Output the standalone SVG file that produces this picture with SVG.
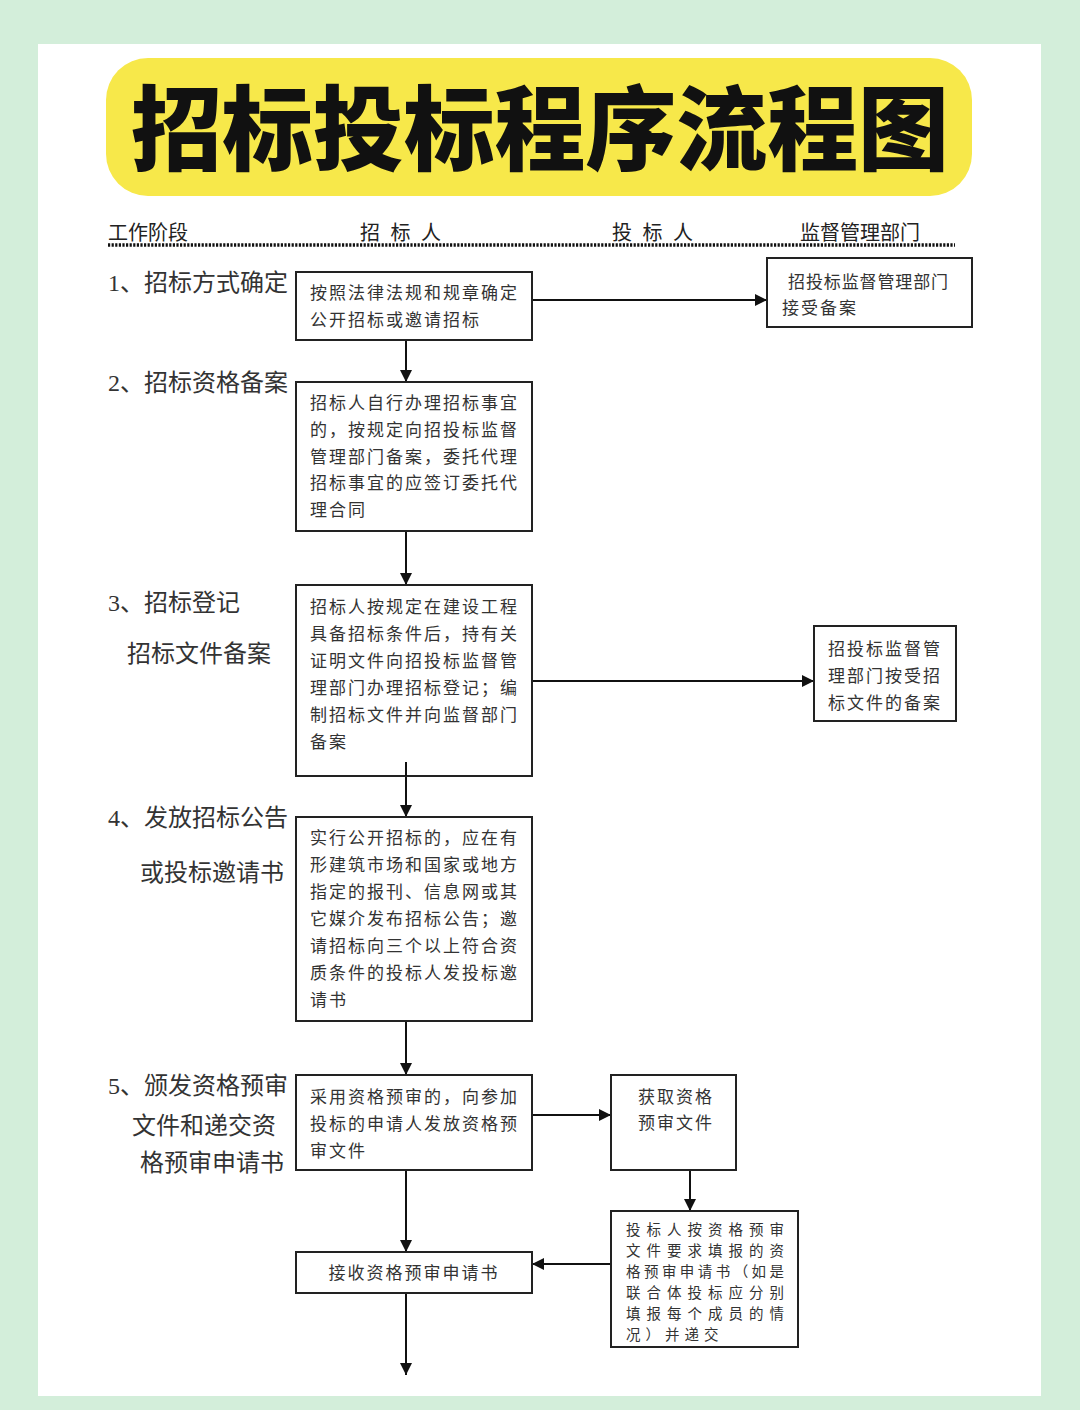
<svg xmlns="http://www.w3.org/2000/svg" width="1080" height="1410" viewBox="0 0 1080 1410">
<defs>
<style>
.box{fill:#fff;stroke:#222;stroke-width:2}
.bt{font-family:"Noto Sans CJK SC",sans-serif;font-size:17px;fill:#333;letter-spacing:2px}
.sm{font-family:"Noto Sans CJK SC",sans-serif;font-size:14.5px;fill:#333}
.lb{font-family:"Liberation Serif","Noto Sans CJK SC",serif;font-size:24px;fill:#333}
.hd{font-family:"Noto Sans CJK SC",sans-serif;font-size:20px;fill:#222}
.cn{stroke:#111;stroke-width:2;fill:none}
</style>
<marker id="ah" markerUnits="userSpaceOnUse" markerWidth="13" markerHeight="12" refX="12" refY="6" orient="auto">
<path d="M0,0 L12,6 L0,12 z" fill="#111"/>
</marker>
</defs>
<rect x="0" y="0" width="1080" height="1410" fill="#d3eeda"/>
<rect x="38" y="44" width="1003" height="1352" fill="#fff"/>
<g id="title">
<rect x="106" y="58" width="866" height="138" rx="42" fill="#f7e84a"/>
<text x="540" y="163" text-anchor="middle" font-family="Noto Sans CJK SC,sans-serif" font-size="92" font-weight="900" fill="#111" textLength="818" lengthAdjust="spacingAndGlyphs">招标投标程序流程图</text>
</g>
<g id="header">
<text class="hd" x="108" y="240">工作阶段</text>
<text class="hd" x="360" y="240" letter-spacing="3">招 标 人</text>
<text class="hd" x="612" y="240" letter-spacing="3">投 标 人</text>
<text class="hd" x="800" y="240">监督管理部门</text>
<line x1="108" y1="245" x2="955" y2="245" stroke="#111" stroke-width="3.5" stroke-dasharray="2.2 1.4"/>
</g>
<g id="stages">
<text class="lb" x="108" y="291">1、招标方式确定</text>
<text class="lb" x="108" y="391">2、招标资格备案</text>
<text class="lb" x="108" y="611">3、招标登记</text>
<text class="lb" x="127" y="662">招标文件备案</text>
<text class="lb" x="108" y="826">4、发放招标公告</text>
<text class="lb" x="140" y="881">或投标邀请书</text>
<text class="lb" x="108" y="1094">5、颁发资格预审</text>
<text class="lb" x="132" y="1134">文件和递交资</text>
<text class="lb" x="140" y="1171">格预审申请书</text>
</g>
<g id="connectors">
<line class="cn" x1="406" y1="340" x2="406" y2="382" marker-end="url(#ah)"/>
<line class="cn" x1="532" y1="300" x2="767" y2="300" marker-end="url(#ah)"/>
<line class="cn" x1="406" y1="531" x2="406" y2="585" marker-end="url(#ah)"/>
<line class="cn" x1="532" y1="681" x2="814" y2="681" marker-end="url(#ah)"/>
<line class="cn" x1="406" y1="762" x2="406" y2="817" marker-end="url(#ah)"/>
<line class="cn" x1="406" y1="1021" x2="406" y2="1075" marker-end="url(#ah)"/>
<line class="cn" x1="532" y1="1115" x2="611" y2="1115" marker-end="url(#ah)"/>
<line class="cn" x1="406" y1="1170" x2="406" y2="1252" marker-end="url(#ah)"/>
<line class="cn" x1="690" y1="1170" x2="690" y2="1211" marker-end="url(#ah)"/>
<line class="cn" x1="611" y1="1264" x2="532" y2="1264" marker-end="url(#ah)"/>
<line class="cn" x1="406" y1="1293" x2="406" y2="1375" marker-end="url(#ah)"/>
</g>
<g id="n1">
<rect class="box" x="296" y="272" width="236" height="68"/>
<text class="bt" x="310" y="299">按照法律法规和规章确定</text>
<text class="bt" x="310" y="326">公开招标或邀请招标</text>
</g>
<g id="n1r">
<rect class="box" x="767" y="258" width="205" height="69"/>
<text class="bt" x="788" y="288" letter-spacing="0" textLength="162" lengthAdjust="spacing">招投标监督管理部门</text>
<text class="bt" x="782" y="314" letter-spacing="0.3">接受备案</text>
</g>
<g id="n2">
<rect class="box" x="296" y="382" width="236" height="149"/>
<text class="bt" x="310" y="409">招标人自行办理招标事宜</text>
<text class="bt" x="310" y="436">的，按规定向招投标监督</text>
<text class="bt" x="310" y="463">管理部门备案，委托代理</text>
<text class="bt" x="310" y="489">招标事宜的应签订委托代</text>
<text class="bt" x="310" y="516">理合同</text>
</g>
<g id="n3">
<rect class="box" x="296" y="585" width="236" height="191"/>
<text class="bt" x="310" y="613">招标人按规定在建设工程</text>
<text class="bt" x="310" y="640">具备招标条件后，持有关</text>
<text class="bt" x="310" y="667">证明文件向招投标监督管</text>
<text class="bt" x="310" y="694">理部门办理招标登记；编</text>
<text class="bt" x="310" y="721">制招标文件并向监督部门</text>
<text class="bt" x="310" y="748">备案</text>
</g>
<line class="cn" x1="406" y1="762" x2="406" y2="776"/>
<g id="n3r">
<rect class="box" x="814" y="626" width="142" height="95"/>
<text class="bt" x="828" y="655">招投标监督管</text>
<text class="bt" x="828" y="682">理部门按受招</text>
<text class="bt" x="828" y="709">标文件的备案</text>
</g>
<g id="n4">
<rect class="box" x="296" y="817" width="236" height="204"/>
<text class="bt" x="310" y="844">实行公开招标的，应在有</text>
<text class="bt" x="310" y="871">形建筑市场和国家或地方</text>
<text class="bt" x="310" y="898">指定的报刊、信息网或其</text>
<text class="bt" x="310" y="925">它媒介发布招标公告；邀</text>
<text class="bt" x="310" y="952">请招标向三个以上符合资</text>
<text class="bt" x="310" y="979">质条件的投标人发投标邀</text>
<text class="bt" x="310" y="1006">请书</text>
</g>
<g id="n5">
<rect class="box" x="296" y="1075" width="236" height="95"/>
<text class="bt" x="310" y="1103">采用资格预审的，向参加</text>
<text class="bt" x="310" y="1130">投标的申请人发放资格预</text>
<text class="bt" x="310" y="1157">审文件</text>
</g>
<g id="n5b">
<rect class="box" x="611" y="1075" width="125" height="95"/>
<text class="bt" x="638" y="1103" letter-spacing="0.5">获取资格</text>
<text class="bt" x="638" y="1129" letter-spacing="0.5">预审文件</text>
</g>
<g id="n6b">
<rect class="box" x="611" y="1211" width="187" height="136"/>
<text class="sm" x="626" y="1235" textLength="158" lengthAdjust="spacing">投标人按资格预审</text>
<text class="sm" x="626" y="1256" textLength="158" lengthAdjust="spacing">文件要求填报的资</text>
<text class="sm" x="626" y="1277" textLength="158" lengthAdjust="spacing">格预审申请书（如是</text>
<text class="sm" x="626" y="1298" textLength="158" lengthAdjust="spacing">联合体投标应分别</text>
<text class="sm" x="626" y="1319" textLength="158" lengthAdjust="spacing">填报每个成员的情</text>
<text class="sm" x="626" y="1340" letter-spacing="5">况）并递交</text>
</g>
<g id="n6">
<rect class="box" x="296" y="1252" width="236" height="41"/>
<text class="bt" x="414" y="1279" text-anchor="middle" letter-spacing="1">接收资格预审申请书</text>
</g>
</svg>
